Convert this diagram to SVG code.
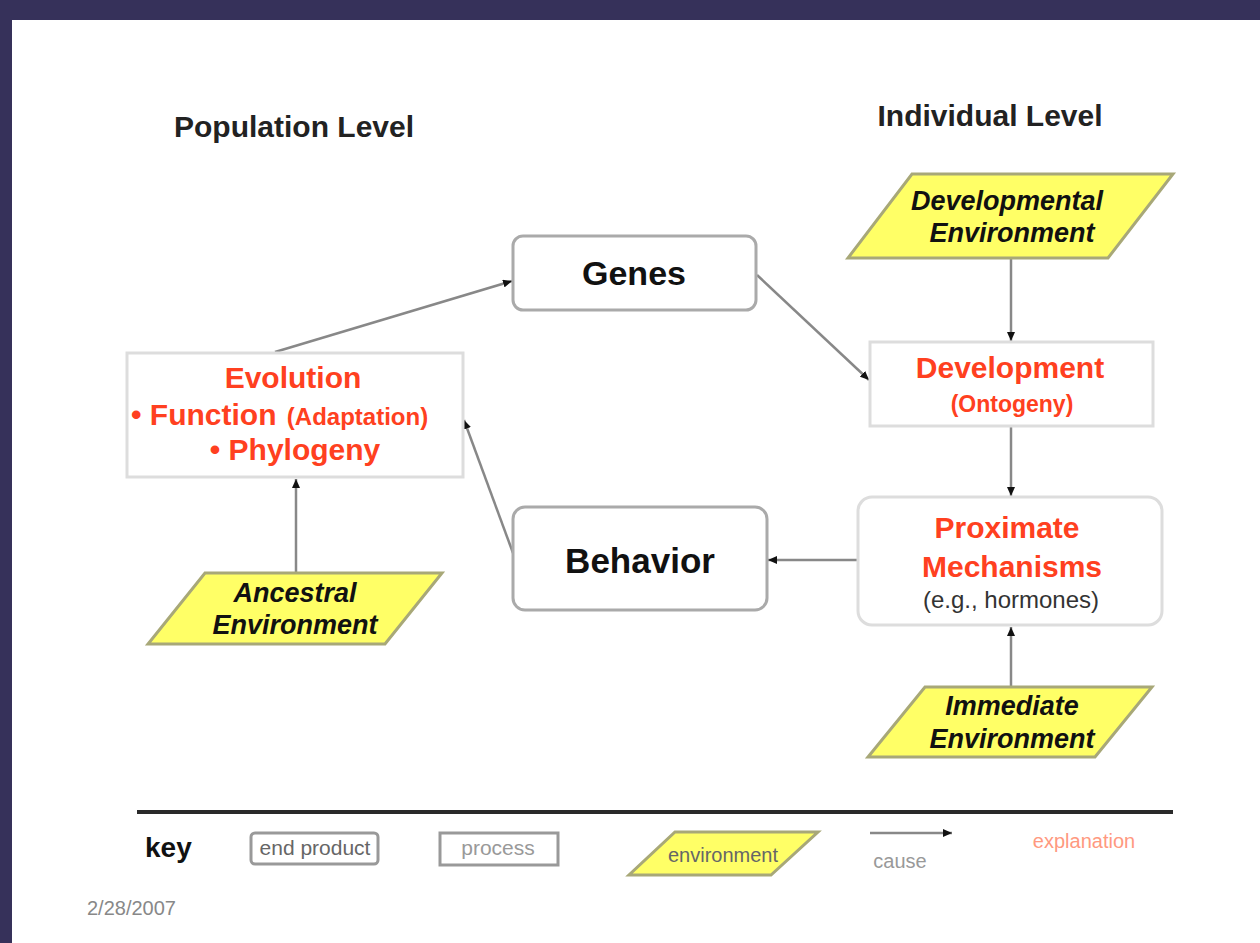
<svg xmlns="http://www.w3.org/2000/svg" width="1260" height="943" viewBox="0 0 1260 943">
<defs>
<marker id="ah" markerUnits="userSpaceOnUse" markerWidth="10" markerHeight="8" refX="9" refY="4" orient="auto">
<path d="M0,0 L9,4 L0,8 Z" fill="#111"/>
</marker>
<style>
.t{font-family:"Liberation Sans",Arial,sans-serif}
.hd{font-size:30px;font-weight:bold;fill:#222}
.big{font-size:34px;font-weight:bold;fill:#111}
.red{font-size:30px;font-weight:bold;fill:#ff4020}
.redsm{font-size:24px;font-weight:bold;fill:#ff4020}
.env{font-size:27px;font-weight:bold;font-style:italic;fill:#111}
.endp{fill:#fff;stroke:#aaa;stroke-width:3}
.proc{fill:#fff;stroke:#ddd;stroke-width:3}
.para{fill:#ffff66;stroke:#a8a878;stroke-width:3}
.con{stroke:#888;stroke-width:2.5;fill:none;marker-end:url(#ah)}
.key{font-size:21px;fill:#777}
</style>
</defs>
<rect x="0" y="0" width="1260" height="943" fill="#36315a"/>
<rect x="12" y="20" width="1248" height="923" fill="#fff"/>

<text class="t hd" x="294" y="137" text-anchor="middle">Population Level</text>
<text class="t hd" x="990" y="126" text-anchor="middle">Individual Level</text>

<g id="connectors">
<line class="con" x1="275" y1="352" x2="512" y2="281"/>
<line class="con" x1="757" y1="275" x2="869" y2="380"/>
<line class="con" x1="1011" y1="258" x2="1011" y2="341"/>
<line class="con" x1="1011" y1="426" x2="1011" y2="496"/>
<line class="con" x1="1011" y1="687" x2="1011" y2="627"/>
<line class="con" x1="857" y1="560" x2="768" y2="560"/>
<line class="con" x1="513" y1="553" x2="464" y2="420"/>
<line class="con" x1="296" y1="573" x2="296" y2="479"/>
</g>

<g id="genes">
<rect class="endp" x="513" y="236" width="243" height="74" rx="10"/>
<text class="t big" x="634" y="285" text-anchor="middle">Genes</text>
</g>

<g id="behavior">
<rect class="endp" x="513" y="507" width="254" height="103" rx="12"/>
<text class="t big" x="640" y="573" text-anchor="middle" style="font-size:35px">Behavior</text>
</g>

<g id="evolution">
<rect class="proc" x="127" y="353" width="336" height="124"/>
<text class="t red" x="293" y="388" text-anchor="middle">Evolution</text>
<text class="t red" x="131" y="425">• Function <tspan class="redsm" dx="2">(Adaptation)</tspan></text>
<text class="t red" x="295" y="460" text-anchor="middle">• Phylogeny</text>
</g>

<g id="development">
<rect class="proc" x="870" y="342" width="283" height="84"/>
<text class="t red" x="1010" y="378" text-anchor="middle">Development</text>
<text class="t redsm" x="1012" y="412" text-anchor="middle" style="font-size:23px">(Ontogeny)</text>
</g>

<g id="proximate">
<rect class="proc" x="858" y="497" width="304" height="128" rx="14"/>
<text class="t red" x="1007" y="538" text-anchor="middle">Proximate</text>
<text class="t red" x="1012" y="577" text-anchor="middle">Mechanisms</text>
<text class="t" x="1011" y="608" text-anchor="middle" style="font-size:24px;fill:#333">(e.g., hormones)</text>
</g>

<g id="developmental-environment">
<polygon class="para" points="912,174 1173,174 1108,258 848,258"/>
<text class="t env" x="1007" y="210" text-anchor="middle">Developmental</text>
<text class="t env" x="1012" y="242" text-anchor="middle">Environment</text>
</g>

<g id="immediate-environment">
<polygon class="para" points="925,687 1152,687 1095,757 868,757"/>
<text class="t env" x="1012" y="715" text-anchor="middle">Immediate</text>
<text class="t env" x="1012" y="748" text-anchor="middle">Environment</text>
</g>

<g id="ancestral-environment">
<polygon class="para" points="205,573 442,573 385,644 148,644"/>
<text class="t env" x="295" y="602" text-anchor="middle">Ancestral</text>
<text class="t env" x="295" y="634" text-anchor="middle">Environment</text>
</g>

<g id="key">
<line x1="137" y1="812" x2="1173" y2="812" stroke="#2a2a2a" stroke-width="4"/>
<text class="t" x="145" y="857" style="font-size:28px;font-weight:bold;fill:#111">key</text>
<rect x="251" y="833" width="127" height="31" rx="4" fill="#fff" stroke="#999" stroke-width="3"/>
<text class="t key" x="315" y="855" text-anchor="middle" style="fill:#666">end product</text>
<rect x="440" y="833" width="118" height="32" fill="#fff" stroke="#999" stroke-width="3"/>
<text class="t key" x="498" y="855" text-anchor="middle" style="fill:#999">process</text>
<polygon points="675,832 818,832 771,875 629,875" fill="#ffff66" stroke="#a8a878" stroke-width="3"/>
<text class="t key" x="723" y="862" text-anchor="middle" style="font-size:20px;fill:#666">environment</text>
<line x1="870" y1="833" x2="952" y2="833" stroke="#888" stroke-width="2.5" marker-end="url(#ah)"/>
<text class="t key" x="900" y="868" text-anchor="middle" style="font-size:20px;fill:#999">cause</text>
<text class="t key" x="1084" y="848" text-anchor="middle" style="font-size:20px;fill:#ff9980">explanation</text>
</g>

<text class="t" x="87" y="915" style="font-size:20px;fill:#888">2/28/2007</text>
</svg>
